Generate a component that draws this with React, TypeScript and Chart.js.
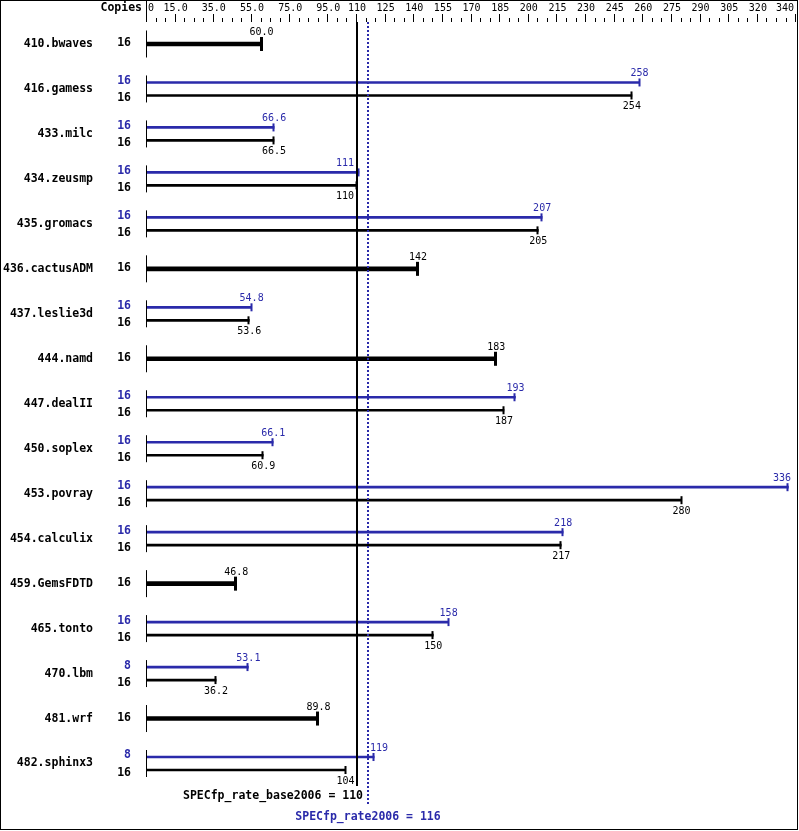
import React, { useEffect, useRef } from "react";
import { Chart, registerables } from "chart.js";

Chart.register(...registerables);

const benchmarks = [
  "410.bwaves", "416.gamess", "433.milc", "434.zeusmp", "435.gromacs", "436.cactusADM",
  "437.leslie3d", "444.namd", "447.dealII", "450.soplex", "453.povray", "454.calculix",
  "459.GemsFDTD", "465.tonto", "470.lbm", "481.wrf", "482.sphinx3",
];
const peakValues: (number | null)[] = [
  null, 258, 66.6, 111, 207, null, 54.8, null, 193, 66.1, 336, 218, null, 158, 53.1, null, 119,
];
const baseValues = [
  60.0, 254, 66.5, 110, 205, 142, 53.6, 183, 187, 60.9, 280, 217, 46.8, 150, 36.2, 89.8, 104,
];
const peakCopies: (number | null)[] = [
  null, 16, 16, 16, 16, null, 16, null, 16, 16, 16, 16, null, 16, 8, null, 8,
];
const baseCopies = [16, 16, 16, 16, 16, 16, 16, 16, 16, 16, 16, 16, 16, 16, 16, 16, 16];

const axisTickValues = [0, 15, 35, 55, 75, 95, 110, 125, 140, 155, 170, 185, 200, 215, 230, 245, 260, 275, 290, 305, 320, 340];
const axisTickLabels = ["0", "15.0", "35.0", "55.0", "75.0", "95.0", "110", "125", "140", "155", "170", "185", "200", "215", "230", "245", "260", "275", "290", "305", "320", "340"];
const minorTickStep = 5;
const axisMax = 340.5;

const baseMean = 110;
const peakMean = 116;
const baseMeanLabel = "SPECfp_rate_base2006 = 110";
const peakMeanLabel = "SPECfp_rate2006 = 116";
const copiesHeader = "Copies";

const BLUE = "#2a2aaa";
const BLACK = "#000000";
const MONO = "'DejaVu Sans Mono', 'Liberation Mono', monospace";

const fmt = (v: number) => (v >= 100 ? String(Math.round(v)) : v.toFixed(1));

const decorPlugin = {
  id: "specDecor",
  beforeDraw(chart: any) {
    const ctx = chart.ctx;
    ctx.save();
    ctx.fillStyle = "#ffffff";
    ctx.fillRect(0, 0, chart.width, chart.height);
    ctx.restore();
  },
  afterDatasetsDraw(chart: any) {
    const ctx: CanvasRenderingContext2D = chart.ctx;
    const x = chart.scales.x;
    const y = chart.scales.y;
    const area = chart.chartArea;
    const left = area.left;
    const right = area.right;
    const bx = Math.round(x.getPixelForValue(baseMean));
    const pxm = Math.round(x.getPixelForValue(peakMean));
    ctx.save();

    // border
    ctx.strokeStyle = BLACK;
    ctx.lineWidth = 1;
    ctx.strokeRect(0.5, 0.5, 797, 829);

    // top axis
    ctx.beginPath();
    ctx.moveTo(left - 0.5, 0);
    ctx.lineTo(left - 0.5, 22);
    ctx.stroke();
    for (let v = minorTickStep; v <= axisMax; v += minorTickStep) {
      const px = Math.round(x.getPixelForValue(v)) - 0.5;
      const major = axisTickValues.indexOf(v) >= 0;
      ctx.beginPath();
      ctx.moveTo(px, major ? 14 : 18);
      ctx.lineTo(px, 22);
      ctx.stroke();
    }
    ctx.fillStyle = BLACK;
    ctx.font = `10px ${MONO}`;
    ctx.textBaseline = "middle";
    ctx.textAlign = "left";
    axisTickValues.forEach((v, i) => {
      const px = x.getPixelForValue(v);
      const label = axisTickLabels[i];
      const w = ctx.measureText(label).width;
      let lx = px - w / 2;
      if (lx < left + 1) lx = left + 1;
      if (lx + w > right - 3) lx = right - 3 - w;
      ctx.fillText(label, lx, 8);
    });

    // header
    ctx.font = `bold 11.5px ${MONO}`;
    ctx.textAlign = "right";
    ctx.fillText(copiesHeader, 142, 8);

    const m0 = chart.getDatasetMeta(0);
    const m1 = chart.getDatasetMeta(1);
    const m2 = chart.getDatasetMeta(2);

    const cap = (px: number, py: number, h: number, w: number, color: string) => {
      ctx.fillStyle = color;
      ctx.fillRect(Math.round(px) - w / 2 - 0.5, py - h / 2, w, h);
    };
    const valueLabel = (text: string, px: number, py: number, color: string) => {
      ctx.font = `10px ${MONO}`;
      ctx.fillStyle = color;
      ctx.textAlign = "left";
      const w = ctx.measureText(text).width;
      let lx = px - w / 2;
      if (lx + w > right - 6) lx = right - 6 - w;
      // keep labels clear of the mean lines
      if (lx < bx + 2 && lx + w > bx - 2) lx = bx - 3 - w;
      else if (lx < pxm + 2 && lx + w > pxm - 2) lx = pxm + 2;
      ctx.fillText(text, lx, py);
    };

    benchmarks.forEach((name, j) => {
      const c = y.getPixelForValue(j);
      // row axis segment
      ctx.strokeStyle = BLACK;
      ctx.lineWidth = 1;
      ctx.beginPath();
      ctx.moveTo(left - 0.5, c - 13.5);
      ctx.lineTo(left - 0.5, c + 13.5);
      ctx.stroke();

      ctx.font = `bold 11.5px ${MONO}`;
      ctx.textAlign = "right";
      ctx.fillStyle = BLACK;
      ctx.fillText(name, 93, c);

      const pv = peakValues[j];
      if (pv != null) {
        const pe = m0.data[j];
        const be = m1.data[j];
        cap(pe.x, pe.y, 8, 2, BLUE);
        cap(be.x, be.y, 8, 2, BLACK);
        valueLabel(fmt(pv), pe.x, pe.y - 9, BLUE);
        valueLabel(fmt(baseValues[j]), be.x, be.y + 11, BLACK);
        ctx.font = `bold 11.5px ${MONO}`;
        ctx.textAlign = "right";
        ctx.fillStyle = BLUE;
        ctx.fillText(String(peakCopies[j]), 131, c - 8);
        ctx.fillStyle = BLACK;
        ctx.fillText(String(baseCopies[j]), 131, c + 9.5);
      } else {
        const e = m2.data[j];
        cap(e.x, e.y, 14, 3, BLACK);
        valueLabel(fmt(baseValues[j]), e.x, e.y - 11.5, BLACK);
        ctx.font = `bold 11.5px ${MONO}`;
        ctx.textAlign = "right";
        ctx.fillStyle = BLACK;
        ctx.fillText(String(baseCopies[j]), 131, c - 0.5);
      }
    });

    // mean lines
    ctx.strokeStyle = BLACK;
    ctx.lineWidth = 2;
    ctx.beginPath();
    ctx.moveTo(bx, 22);
    ctx.lineTo(bx, 786);
    ctx.stroke();

    ctx.strokeStyle = BLUE;
    ctx.setLineDash([2, 2]);
    ctx.beginPath();
    ctx.moveTo(pxm, 22);
    ctx.lineTo(pxm, 806);
    ctx.stroke();
    ctx.setLineDash([]);

    ctx.font = `bold 11.5px ${MONO}`;
    ctx.textAlign = "right";
    ctx.fillStyle = BLACK;
    ctx.fillText(baseMeanLabel, bx + 6, 796);
    ctx.textAlign = "center";
    ctx.fillStyle = BLUE;
    ctx.fillText(peakMeanLabel, pxm, 817);

    ctx.restore();
  },
};

export default function App() {
  const ref = useRef<HTMLCanvasElement | null>(null);
  useEffect(() => {
    document.body.style.margin = "0";
    if (!ref.current) return;
    const isDouble = peakValues.map((v) => v != null);
    const chart = new Chart(ref.current, {
      type: "bar",
      data: {
        labels: benchmarks,
        datasets: [
          {
            label: "peak",
            data: peakValues.map((v) => (v == null ? null : v)) as any,
            backgroundColor: BLUE,
            barThickness: 13,
            maxBarThickness: 2,
          },
          {
            label: "base",
            data: baseValues.map((v, i) => (isDouble[i] ? v : null)) as any,
            backgroundColor: BLACK,
            barThickness: 13,
            maxBarThickness: 2,
          },
          {
            label: "base=peak",
            data: baseValues.map((v, i) => (isDouble[i] ? null : v)) as any,
            backgroundColor: BLACK,
            barThickness: 13,
            maxBarThickness: 4,
          },
        ],
      },
      options: {
        indexAxis: "y",
        responsive: false,
        animation: false,
        devicePixelRatio: 1,
        datasets: { bar: { skipNull: true } } as any,
        layout: { padding: { left: 147, right: 2, top: 21.5, bottom: 45 } },
        scales: {
          x: { type: "linear", min: 0, max: axisMax, display: false },
          y: { type: "category", display: false },
        },
        plugins: {
          legend: { display: false },
          tooltip: { enabled: false },
          title: { display: false },
        },
      },
      plugins: [decorPlugin],
    });
    return () => chart.destroy();
  }, []);
  return <canvas ref={ref} width={799} height={831} style={{ display: "block", width: 799, height: 831 }} />;
}
